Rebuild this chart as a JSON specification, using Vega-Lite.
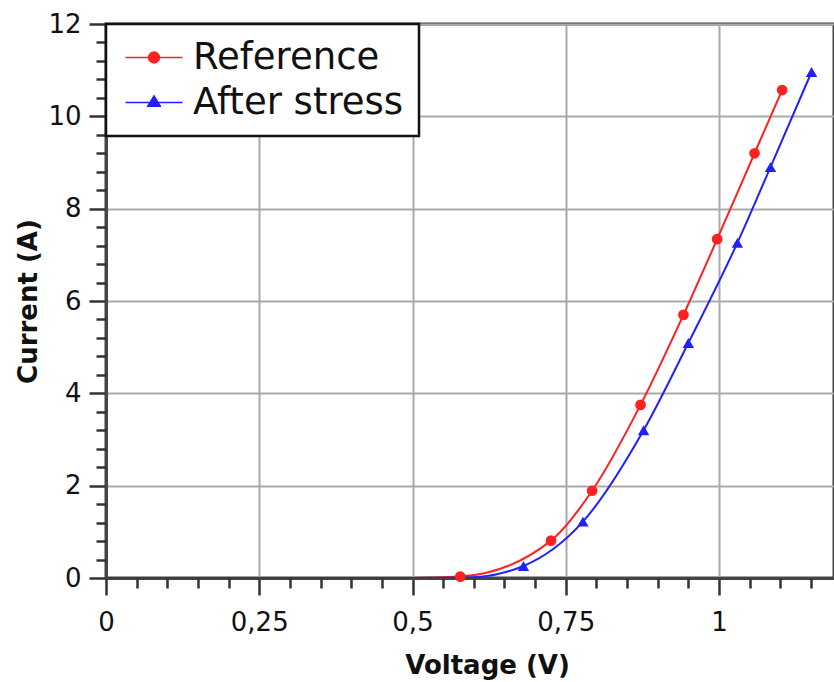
{
  "$schema": "https://vega.github.io/schema/vega-lite/v6.json",
  "width": 728,
  "height": 554,
  "autosize": {"type": "none"},
  "padding": {"left": 106, "top": 24, "right": 0, "bottom": 104},
  "background": "white",
  "datasets": {
    "curves": [
      {"series": "Reference", "voltage": 0, "current": 0},
      {"series": "Reference", "voltage": 0.1, "current": 0},
      {"series": "Reference", "voltage": 0.2, "current": 0},
      {"series": "Reference", "voltage": 0.3, "current": 0},
      {"series": "Reference", "voltage": 0.4, "current": 0},
      {"series": "Reference", "voltage": 0.5, "current": 0},
      {"series": "Reference", "voltage": 0.578, "current": 0.03},
      {"series": "Reference", "voltage": 0.726, "current": 0.81},
      {"series": "Reference", "voltage": 0.793, "current": 1.89},
      {"series": "Reference", "voltage": 0.872, "current": 3.75},
      {"series": "Reference", "voltage": 0.942, "current": 5.7},
      {"series": "Reference", "voltage": 0.997, "current": 7.34},
      {"series": "Reference", "voltage": 1.058, "current": 9.2},
      {"series": "Reference", "voltage": 1.103, "current": 10.57},
      {"series": "After stress", "voltage": 0, "current": 0},
      {"series": "After stress", "voltage": 0.1, "current": 0},
      {"series": "After stress", "voltage": 0.2, "current": 0},
      {"series": "After stress", "voltage": 0.3, "current": 0},
      {"series": "After stress", "voltage": 0.4, "current": 0},
      {"series": "After stress", "voltage": 0.5, "current": 0},
      {"series": "After stress", "voltage": 0.59, "current": 0.01},
      {"series": "After stress", "voltage": 0.681, "current": 0.26},
      {"series": "After stress", "voltage": 0.778, "current": 1.22},
      {"series": "After stress", "voltage": 0.877, "current": 3.2},
      {"series": "After stress", "voltage": 0.95, "current": 5.09},
      {"series": "After stress", "voltage": 1.03, "current": 7.26},
      {"series": "After stress", "voltage": 1.084, "current": 8.9},
      {"series": "After stress", "voltage": 1.151, "current": 10.96}
    ],
    "markers": [
      {"series": "Reference", "voltage": 0.578, "current": 0.03},
      {"series": "Reference", "voltage": 0.726, "current": 0.81},
      {"series": "Reference", "voltage": 0.793, "current": 1.89},
      {"series": "Reference", "voltage": 0.872, "current": 3.75},
      {"series": "Reference", "voltage": 0.942, "current": 5.7},
      {"series": "Reference", "voltage": 0.997, "current": 7.34},
      {"series": "Reference", "voltage": 1.058, "current": 9.2},
      {"series": "Reference", "voltage": 1.103, "current": 10.57},
      {"series": "After stress", "voltage": 0.681, "current": 0.26},
      {"series": "After stress", "voltage": 0.778, "current": 1.22},
      {"series": "After stress", "voltage": 0.877, "current": 3.2},
      {"series": "After stress", "voltage": 0.95, "current": 5.09},
      {"series": "After stress", "voltage": 1.03, "current": 7.26},
      {"series": "After stress", "voltage": 1.084, "current": 8.9},
      {"series": "After stress", "voltage": 1.151, "current": 10.96}
    ]
  },
  "layer": [
    {
      "data": {"name": "curves"},
      "mark": {"type": "line", "interpolate": "monotone", "strokeWidth": 2, "clip": true},
      "encoding": {
        "x": {
          "field": "voltage", "type": "quantitative",
          "scale": {"domain": [0, 1.1876], "nice": false, "zero": false},
          "axis": {
            "orient": "bottom",
            "values": [0, 0.25, 0.5, 0.75, 1],
            "labelExpr": "replace(format(datum.value, '.2~f'), '.', ',')",
            "labelFlush": false,
            "title": "Voltage (V)",
            "titleX": 381,
            "titlePadding": 17,
            "grid": true,
            "tickSize": 17,
            "labelPadding": 14
          }
        },
        "y": {
          "field": "current", "type": "quantitative",
          "scale": {"domain": [0, 12], "nice": false},
          "axis": {
            "orient": "left",
            "values": [0, 2, 4, 6, 8, 10, 12],
            "format": "d",
            "title": "Current (A)",
            "titlePadding": 6,
            "grid": true,
            "tickSize": 17,
            "labelPadding": 8
          }
        },
        "color": {
          "field": "series", "type": "nominal",
          "scale": {"domain": ["After stress", "Reference"], "range": ["#2020ff", "#ff2020"]},
          "legend": null
        }
      }
    },
    {
      "data": {"name": "markers"},
      "transform": [{"filter": "datum.series === 'Reference'"}],
      "mark": {"type": "circle", "size": 115, "opacity": 1},
      "encoding": {
        "x": {
          "field": "voltage", "type": "quantitative",
          "axis": {
            "orient": "bottom",
            "values": [0.05, 0.1, 0.15, 0.2, 0.3, 0.35, 0.4, 0.45, 0.55, 0.6, 0.65, 0.7, 0.8, 0.85, 0.9, 0.95, 1.05, 1.1, 1.15],
            "labels": false, "domain": false, "grid": false, "title": null, "tickSize": 10
          }
        },
        "y": {
          "field": "current", "type": "quantitative",
          "axis": {
            "orient": "left",
            "values": [0.4, 0.8, 1.2, 1.6, 2.4, 2.8, 3.2, 3.6, 4.4, 4.8, 5.2, 5.6, 6.4, 6.8, 7.2, 7.6, 8.4, 8.8, 9.2, 9.6, 10.4, 10.8, 11.2, 11.6],
            "labels": false, "domain": false, "grid": false, "title": null, "tickSize": 10
          }
        },
        "color": {"field": "series", "type": "nominal", "legend": null}
      }
    },
    {
      "data": {"name": "markers"},
      "transform": [{"filter": "datum.series === 'After stress'"}],
      "mark": {"type": "point", "shape": "triangle-up", "filled": true, "size": 130, "opacity": 1},
      "encoding": {
        "x": {"field": "voltage", "type": "quantitative", "axis": null},
        "y": {"field": "current", "type": "quantitative", "axis": null},
        "color": {"field": "series", "type": "nominal", "legend": null}
      }
    },
    {
      "data": {"name": "markers"},
      "mark": {"type": "point", "filled": true, "strokeWidth": 2.2, "opacity": 1, "size": 0},
      "encoding": {
        "x": {"field": "voltage", "type": "quantitative", "axis": null},
        "y": {"field": "current", "type": "quantitative", "axis": null},
        "fill": {
          "field": "series", "type": "nominal",
          "scale": {"domain": ["Reference", "After stress"], "range": ["#ff2020", "#2020ff"]},
          "legend": {"title": null}
        },
        "stroke": {
          "field": "series", "type": "nominal",
          "scale": {"domain": ["Reference", "After stress"], "range": ["#ff2020", "#2020ff"]},
          "legend": {"title": null}
        },
        "shape": {
          "field": "series", "type": "nominal",
          "scale": {
            "domain": ["Reference", "After stress"],
            "range": [
              "M-0.8,0H2.46M1.14,0A0.31,0.31 0 1,1 0.52,0A0.31,0.31 0 1,1 1.14,0Z",
              "M-0.8,0H2.46M0.83,-0.38L1.19,0.22L0.47,0.22Z"
            ]
          },
          "legend": {"title": null}
        }
      }
    }
  ],
  "resolve": {"axis": {"x": "independent", "y": "independent"}},
  "config": {
    "view": {"stroke": "#444", "strokeWidth": 3},
    "axis": {
      "labelFont": "DejaVu Sans",
      "labelFontSize": 26,
      "labelColor": "#111",
      "titleFont": "DejaVu Sans",
      "titleFontSize": 26,
      "titleFontWeight": "bold",
      "titleColor": "#111",
      "domainColor": "#444",
      "domainWidth": 3,
      "tickColor": "#333",
      "tickWidth": 2.5,
      "gridColor": "#aaaaaa",
      "gridWidth": 2,
      "gridOpacity": 1
    },
    "legend": {
      "orient": "top-left",
      "offset": 0,
      "padding": 15,
      "rowPadding": 7,
      "symbolSize": 1225,
      "symbolOpacity": 1,
      "labelFont": "DejaVu Sans",
      "labelFontSize": 37,
      "labelColor": "#111",
      "labelOffset": 35,
      "labelLimit": 400,
      "strokeColor": "#111",
      "strokeWidth": 2.5,
      "fillColor": "white"
    }
  }
}
